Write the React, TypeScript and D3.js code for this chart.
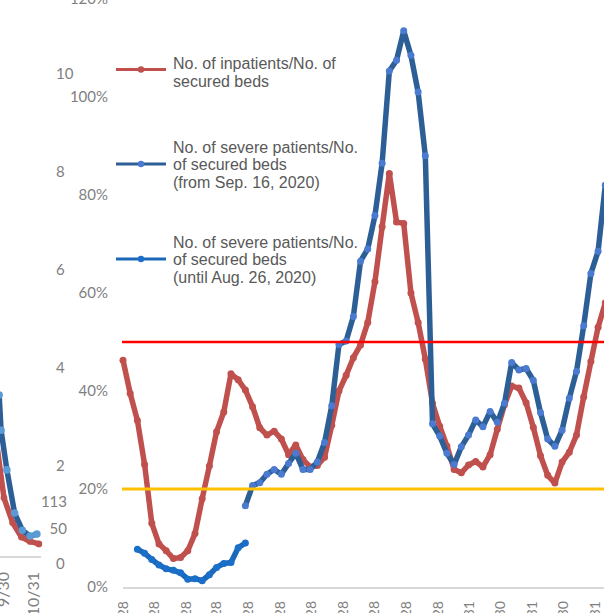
import React from "react";
import * as d3 from "d3";

const WIDTH = 604;
const HEIGHT = 613;

// ---------- main chart data (weekly points) ----------
const firstWeek = "2020-04-28";
const inpatientRatio = [
  46.3, 39.5, 34, 25, 13, 8.8, 7.4, 5.8, 6.0, 7.4, 10.9, 18.0, 24.7, 31.7, 35.7, 43.5,
  42.3, 40.2, 36.8, 32.5, 31.0, 31.8, 30.2, 27.0, 29.0, 26.0, 24.5, 24.8, 26.5, 33.0,
  40.0, 43.2, 46.8, 49.4, 54.0, 62.3, 73.5, 84.4, 74.5, 74.2, 60.0, 54.0, 46.5, 37.5,
  32.8, 28.8, 24.0, 23.3, 24.9, 25.6, 24.5, 27.0, 32.2, 37.2, 41.0, 40.6, 37.6, 32.6,
  26.8, 22.8, 21.2, 25.5, 27.5, 31.0, 38.8, 46.0, 53.0, 58.0,
];
const severeFromSepStart = 17;
const severeFromSep = [
  16.6, 20.7, 21.3, 23.0, 24.0, 23.0, 25.2, 27.3, 24.0, 24.0, 25.5, 29.5, 37.0, 49.5,
  50.2, 55.2, 66.5, 69.0, 75.8, 86.5, 105.3, 107.5, 113.5, 108.5, 101.0, 88.0, 33.3,
  30.8, 27.3, 25.0, 28.6, 31.0, 34.1, 32.7, 35.8, 33.6, 37.5, 45.8, 44.3, 44.6, 42.2,
  35.6, 30.2, 28.7, 32.0, 38.5, 44.0, 53.3, 64.0, 68.5, 82.0,
];
const severeUntilAugStart = 2;
const severeUntilAug = [7.7, 6.9, 5.6, 4.5, 3.7, 3.4, 2.9, 1.6, 1.7, 1.3, 2.5, 4.0, 4.8, 5.0, 8.0, 9.0];

const yTicks = [0, 20, 40, 60, 80, 100, 120];
const xTickDates = [
  "2020-04-28", "2020-05-28", "2020-06-28", "2020-07-28", "2020-08-28", "2020-09-28",
  "2020-10-28", "2020-11-28", "2020-12-28", "2021-01-28", "2021-02-28", "2021-03-31",
  "2021-04-30", "2021-05-31", "2021-06-30", "2021-07-31",
];
const thresholdValues = [50, 20];

const legendLabels = [
  ["No. of inpatients/No. of", "secured beds"],
  ["No. of severe patients/No.", "of secured beds", "(from Sep. 16, 2020)"],
  ["No. of severe patients/No.", "of secured beds", "(until Aug. 26, 2020)"],
];

// ---------- left chart fragment data ----------
const leftTicks = [0, 2, 4, 6, 8, 10];
const leftExtraLabels = ["113", "50"];
const leftExtraValues = [1.27, 0.71];
const leftBlueDays = [-4, -2, 4, 12, 20, 28, 35];
const leftBlueValues = [3.45, 2.73, 1.92, 1.04, 0.69, 0.57, 0.61];
const leftRedDays = [-7, 1, 10, 19, 28, 37];
const leftRedValues = [2.53, 1.35, 0.84, 0.55, 0.46, 0.41];
const leftXLabels = ["9/30", "10/31"];
const leftXDays = [0, 31];

// ---------- styles ----------
const RED = "#c0504d";
const SEP_LINE = "#2d5f97";
const SEP_DOT = "#4a7bd0";
const AUG_LINE = "#1c68b8";
const AUG_DOT = "#1a70c8";
const TICK_FILL = "#7f7f7f";
const AXIS_FONT = "Lato, 'Open Sans', sans-serif";
const LEGEND_FONT = "'Liberation Sans', Arial, sans-serif";

export default function App() {
  const parse = d3.timeParse("%Y-%m-%d");
  const start = parse(firstWeek) as Date;
  const x = d3
    .scaleTime()
    .domain([parse(xTickDates[0]) as Date, parse(xTickDates[xTickDates.length - 1]) as Date])
    .range([123, 595]);
  const y = d3.scaleLinear().domain([0, 120]).range([587, -1]);
  const weekDate = (i: number) => d3.timeDay.offset(start, 7 * i);
  const fmt = d3.timeFormat("%-m/%-d");

  type P = { d: Date; v: number };
  const redPts: P[] = inpatientRatio.map((v, i) => ({ d: weekDate(i), v }));
  const sepPts: P[] = severeFromSep.map((v, i) => ({ d: weekDate(i + severeFromSepStart), v }));
  const augPts: P[] = severeUntilAug.map((v, i) => ({ d: weekDate(i + severeUntilAugStart), v }));

  const line = d3
    .line<P>()
    .x((p) => x(p.d))
    .y((p) => y(p.v));

  // left fragment scales
  const ly = d3.scaleLinear().domain([0, 10]).range([564, 74]);
  const lx = d3.scaleLinear().domain([0, 31]).range([3, 33]);
  type L = { t: number; v: number };
  const lBlue: L[] = leftBlueDays.map((t, i) => ({ t, v: leftBlueValues[i] }));
  const lRed: L[] = leftRedDays.map((t, i) => ({ t, v: leftRedValues[i] }));
  const lline = d3
    .line<L>()
    .x((p) => lx(p.t))
    .y((p) => ly(p.v));

  const legendStyles = [
    { line: RED, dot: RED },
    { line: SEP_LINE, dot: SEP_DOT },
    { line: AUG_LINE, dot: AUG_DOT },
  ];
  const legendY = [69.5, 164, 259];

  const series = [
    { pts: redPts, line: RED, dot: RED },
    { pts: augPts, line: AUG_LINE, dot: AUG_DOT },
    { pts: sepPts, line: SEP_LINE, dot: SEP_DOT },
  ];

  return (
    <svg
      width={WIDTH}
      height={HEIGHT}
      style={{ position: "fixed", left: 0, top: 0, background: "#fff" }}
    >
      <rect x={0} y={0} width={WIDTH} height={HEIGHT} fill="#fff" />

      {/* left chart fragment */}
      <line x1={0} x2={41} y1={557} y2={557} stroke="#d9d9d9" strokeWidth={2} />
      <path d={lline(lRed) || ""} fill="none" stroke={RED} strokeWidth={5.5} strokeLinejoin="round" />
      {lRed.map((p, i) => (
        <circle key={"lr" + i} cx={lx(p.t)} cy={ly(p.v)} r={3.4} fill={RED} />
      ))}
      <path d={lline(lBlue) || ""} fill="none" stroke={SEP_LINE} strokeWidth={5.5} strokeLinejoin="round" />
      {lBlue.map((p, i) => (
        <circle key={"lb" + i} cx={lx(p.t)} cy={ly(p.v)} r={3.8} fill="#5b9bd5" />
      ))}
      {leftTicks.map((t) => (
        <text
          key={"lt" + t}
          x={56}
          y={ly(t)}
          dy="0.35em"
          fontSize={15}
          fontFamily={AXIS_FONT}
          fill={TICK_FILL}
        >
          {t}
        </text>
      ))}
      {leftExtraLabels.map((s, i) => (
        <text
          key={"le" + s}
          x={67}
          y={ly(leftExtraValues[i])}
          dy="0.35em"
          textAnchor="end"
          fontSize={15}
          fontFamily={AXIS_FONT}
          fill={TICK_FILL}
        >
          {s}
        </text>
      ))}
      {leftXLabels.map((s, i) => (
        <text
          key={"lx" + s}
          transform={`translate(${lx(leftXDays[i])},572) rotate(-90)`}
          dy="0.35em"
          textAnchor="end"
          fontSize={16}
          fontFamily={AXIS_FONT}
          fill={TICK_FILL}
        >
          {s}
        </text>
      ))}

      {/* main chart axes */}
      <line x1={123} x2={WIDTH} y1={y(0) + 1} y2={y(0) + 1} stroke="#d9d9d9" strokeWidth={2} />
      {yTicks.map((t) => (
        <text
          key={"yt" + t}
          x={108}
          y={y(t)}
          dy="0.35em"
          textAnchor="end"
          fontSize={15}
          fontFamily={AXIS_FONT}
          fill={TICK_FILL}
        >
          {t + "%"}
        </text>
      ))}
      {xTickDates.map((s) => {
        const d = parse(s) as Date;
        return (
          <text
            key={"xt" + s}
            transform={`translate(${x(d)},601) rotate(-90)`}
            dy="0.35em"
            textAnchor="end"
            fontSize={14}
            fontFamily={AXIS_FONT}
            fill={TICK_FILL}
          >
            {fmt(d)}
          </text>
        );
      })}

      {/* series */}
      {series.map((s, k) => (
        <g key={"s" + k}>
          <path
            d={line(s.pts) || ""}
            fill="none"
            stroke={s.line}
            strokeWidth={5.5}
            strokeLinejoin="round"
            strokeLinecap="round"
          />
          {s.pts.map((p, i) => (
            <circle key={i} cx={x(p.d)} cy={y(p.v)} r={3.5} fill={s.dot} />
          ))}
        </g>
      ))}

      {/* threshold lines */}
      {thresholdValues.map((v, i) => (
        <line
          key={"th" + v}
          x1={122}
          x2={WIDTH}
          y1={y(v)}
          y2={y(v)}
          stroke={i === 0 ? "#ff0000" : "#ffc000"}
          strokeWidth={i === 0 ? 2.5 : 3}
        />
      ))}

      {/* legend */}
      {legendLabels.map((lines, k) => {
        const cy = legendY[k];
        const n = lines.length;
        const first = n === 2 ? cy - 0.5 : cy - 11.5;
        return (
          <g key={"lg" + k}>
            <line x1={116} x2={166} y1={cy} y2={cy} stroke={legendStyles[k].line} strokeWidth={3} />
            <circle cx={141} cy={cy} r={3.2} fill={legendStyles[k].dot} />
            {lines.map((t, j) => (
              <text
                key={j}
                x={173}
                y={first + j * 17.5}
                fontSize={16}
                fontFamily={LEGEND_FONT}
                fill="#595959"
              >
                {t}
              </text>
            ))}
          </g>
        );
      })}
    </svg>
  );
}
